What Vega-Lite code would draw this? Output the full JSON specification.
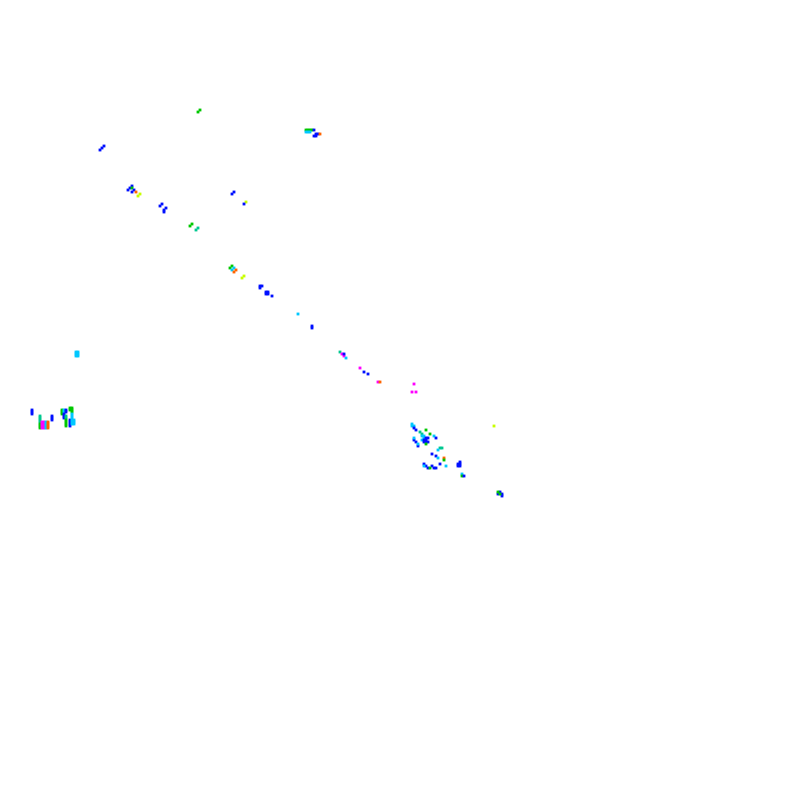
{
  "$schema": "https://vega.github.io/schema/vega-lite/v6.json",
  "description": "Sparse raster of small coloured cells, no axes",
  "width": 800,
  "height": 800,
  "autosize": {"type": "fit", "contains": "padding"},
  "padding": 0,
  "background": "white",
  "data": {
    "values": [
      {"c": 99, "r": 56, "k": "G"}, {"c": 100, "r": 55, "k": "G"},
      {"c": 153, "r": 65, "k": "G"}, {"c": 154, "r": 65, "k": "G"}, {"c": 155, "r": 65, "k": "G"}, {"c": 156, "r": 65, "k": "G"},
      {"c": 153, "r": 66, "k": "C"}, {"c": 154, "r": 66, "k": "C"}, {"c": 155, "r": 66, "k": "C"},
      {"c": 157, "r": 65, "k": "B"}, {"c": 157, "r": 68, "k": "B"}, {"c": 158, "r": 68, "k": "B"}, {"c": 158, "r": 67, "k": "B"}, {"c": 159, "r": 67, "k": "B"},
      {"c": 160, "r": 67, "k": "O"},
      {"c": 50, "r": 75, "k": "B"}, {"c": 51, "r": 74, "k": "B"}, {"c": 52, "r": 73, "k": "B"},
      {"c": 64, "r": 95, "k": "B"}, {"c": 65, "r": 94, "k": "B"}, {"c": 66, "r": 93, "k": "B"}, {"c": 66, "r": 94, "k": "G"},
      {"c": 66, "r": 96, "k": "B"}, {"c": 67, "r": 95, "k": "B"}, {"c": 68, "r": 96, "k": "O"},
      {"c": 69, "r": 98, "k": "Y"}, {"c": 70, "r": 97, "k": "Y"},
      {"c": 80, "r": 103, "k": "B"}, {"c": 81, "r": 102, "k": "B"}, {"c": 82, "r": 105, "k": "B"}, {"c": 83, "r": 104, "k": "B"}, {"c": 82, "r": 106, "k": "B"},
      {"c": 116, "r": 97, "k": "B"}, {"c": 117, "r": 96, "k": "B"},
      {"c": 123, "r": 101, "k": "Y"}, {"c": 122, "r": 102, "k": "B"},
      {"c": 95, "r": 113, "k": "G"}, {"c": 96, "r": 112, "k": "G"},
      {"c": 98, "r": 115, "k": "T"}, {"c": 99, "r": 114, "k": "T"},
      {"c": 115, "r": 134, "k": "G"}, {"c": 116, "r": 133, "k": "G"},
      {"c": 116, "r": 135, "k": "C"}, {"c": 117, "r": 134, "k": "C"},
      {"c": 117, "r": 136, "k": "O"}, {"c": 118, "r": 135, "k": "O"},
      {"c": 121, "r": 139, "k": "Y"}, {"c": 122, "r": 138, "k": "Y"},
      {"c": 130, "r": 143, "k": "B"}, {"c": 131, "r": 143, "k": "B"}, {"c": 130, "r": 144, "k": "B"},
      {"c": 133, "r": 146, "k": "B"}, {"c": 134, "r": 146, "k": "B"}, {"c": 133, "r": 147, "k": "B"}, {"c": 134, "r": 147, "k": "B"},
      {"c": 136, "r": 148, "k": "B"},
      {"c": 149, "r": 157, "k": "C"},
      {"c": 156, "r": 163, "k": "B"}, {"c": 156, "r": 164, "k": "B"},
      {"c": 170, "r": 176, "k": "T"}, {"c": 171, "r": 177, "k": "M"}, {"c": 172, "r": 178, "k": "M"}, {"c": 172, "r": 177, "k": "B"}, {"c": 173, "r": 179, "k": "C"},
      {"c": 180, "r": 184, "k": "M"}, {"c": 182, "r": 186, "k": "B"}, {"c": 184, "r": 187, "k": "B"},
      {"c": 189, "r": 191, "k": "M"}, {"c": 190, "r": 191, "k": "O"},
      {"c": 207, "r": 192, "k": "M"}, {"c": 206, "r": 196, "k": "M"}, {"c": 208, "r": 196, "k": "M"},
      {"c": 38, "r": 176, "k": "C"}, {"c": 39, "r": 176, "k": "C"}, {"c": 38, "r": 177, "k": "C"}, {"c": 39, "r": 177, "k": "C"}, {"c": 39, "r": 178, "k": "C"}, {"c": 38, "r": 178, "k": "C"},
      {"c": 16, "r": 205, "k": "B"}, {"c": 16, "r": 206, "k": "B"}, {"c": 16, "r": 207, "k": "B"},
      {"c": 20, "r": 208, "k": "T"}, {"c": 20, "r": 209, "k": "T"}, {"c": 20, "r": 210, "k": "T"}, {"c": 20, "r": 211, "k": "T"}, {"c": 20, "r": 212, "k": "G"}, {"c": 20, "r": 213, "k": "G"}, {"c": 20, "r": 214, "k": "G"},
      {"c": 21, "r": 211, "k": "M"}, {"c": 21, "r": 212, "k": "M"}, {"c": 21, "r": 213, "k": "M"}, {"c": 21, "r": 214, "k": "M"},
      {"c": 22, "r": 211, "k": "M"}, {"c": 22, "r": 212, "k": "M"}, {"c": 22, "r": 213, "k": "M"}, {"c": 22, "r": 214, "k": "M"},
      {"c": 23, "r": 211, "k": "C"}, {"c": 23, "r": 212, "k": "C"}, {"c": 23, "r": 213, "k": "C"}, {"c": 23, "r": 214, "k": "C"},
      {"c": 24, "r": 211, "k": "O"}, {"c": 24, "r": 212, "k": "O"}, {"c": 24, "r": 213, "k": "O"}, {"c": 24, "r": 214, "k": "O"},
      {"c": 26, "r": 208, "k": "B"}, {"c": 26, "r": 209, "k": "B"}, {"c": 26, "r": 210, "k": "B"},
      {"c": 31, "r": 205, "k": "G"}, {"c": 31, "r": 206, "k": "G"}, {"c": 31, "r": 207, "k": "G"},
      {"c": 32, "r": 205, "k": "C"}, {"c": 32, "r": 206, "k": "C"}, {"c": 32, "r": 207, "k": "B"}, {"c": 32, "r": 208, "k": "B"}, {"c": 32, "r": 209, "k": "B"},
      {"c": 33, "r": 205, "k": "B"}, {"c": 33, "r": 206, "k": "B"},
      {"c": 33, "r": 208, "k": "T"}, {"c": 33, "r": 209, "k": "T"}, {"c": 33, "r": 210, "k": "G"}, {"c": 33, "r": 211, "k": "G"}, {"c": 33, "r": 212, "k": "G"}, {"c": 33, "r": 213, "k": "G"},
      {"c": 35, "r": 204, "k": "G"}, {"c": 36, "r": 204, "k": "G"}, {"c": 35, "r": 205, "k": "G"}, {"c": 36, "r": 205, "k": "G"}, {"c": 36, "r": 206, "k": "G"},
      {"c": 35, "r": 210, "k": "B"}, {"c": 35, "r": 211, "k": "B"}, {"c": 35, "r": 212, "k": "B"}, {"c": 35, "r": 213, "k": "B"},
      {"c": 36, "r": 207, "k": "C"}, {"c": 36, "r": 208, "k": "C"}, {"c": 36, "r": 209, "k": "C"}, {"c": 36, "r": 210, "k": "C"}, {"c": 36, "r": 211, "k": "C"}, {"c": 36, "r": 212, "k": "C"},
      {"c": 37, "r": 210, "k": "C"}, {"c": 37, "r": 211, "k": "C"}, {"c": 37, "r": 212, "k": "C"},
      {"c": 206, "r": 212, "k": "C"}, {"c": 207, "r": 213, "k": "C"}, {"c": 206, "r": 213, "k": "C"}, {"c": 207, "r": 214, "k": "B"},
      {"c": 213, "r": 215, "k": "G"}, {"c": 208, "r": 215, "k": "B"}, {"c": 210, "r": 216, "k": "T"}, {"c": 211, "r": 217, "k": "T"},
      {"c": 211, "r": 218, "k": "C"}, {"c": 212, "r": 218, "k": "C"}, {"c": 212, "r": 219, "k": "C"}, {"c": 211, "r": 220, "k": "C"},
      {"c": 212, "r": 220, "k": "B"}, {"c": 213, "r": 220, "k": "B"}, {"c": 213, "r": 219, "k": "B"}, {"c": 214, "r": 219, "k": "B"}, {"c": 213, "r": 221, "k": "B"}, {"c": 214, "r": 221, "k": "B"}, {"c": 212, "r": 221, "k": "B"},
      {"c": 213, "r": 222, "k": "G"}, {"c": 215, "r": 217, "k": "G"},
      {"c": 207, "r": 220, "k": "B"}, {"c": 208, "r": 221, "k": "B"}, {"c": 209, "r": 223, "k": "B"}, {"c": 207, "r": 219, "k": "C"}, {"c": 209, "r": 222, "k": "C"},
      {"c": 217, "r": 218, "k": "C"}, {"c": 218, "r": 219, "k": "B"},
      {"c": 247, "r": 213, "k": "Y"},
      {"c": 220, "r": 224, "k": "T"}, {"c": 221, "r": 224, "k": "T"}, {"c": 219, "r": 225, "k": "C"},
      {"c": 216, "r": 227, "k": "B"}, {"c": 218, "r": 228, "k": "B"}, {"c": 219, "r": 229, "k": "C"}, {"c": 222, "r": 229, "k": "O"}, {"c": 222, "r": 230, "k": "G"},
      {"c": 212, "r": 232, "k": "B"}, {"c": 213, "r": 233, "k": "B"}, {"c": 214, "r": 234, "k": "B"}, {"c": 212, "r": 233, "k": "C"},
      {"c": 216, "r": 233, "k": "B"}, {"c": 217, "r": 234, "k": "B"}, {"c": 218, "r": 234, "k": "B"}, {"c": 215, "r": 234, "k": "G"},
      {"c": 220, "r": 232, "k": "B"}, {"c": 223, "r": 233, "k": "C"},
      {"c": 229, "r": 232, "k": "B"}, {"c": 230, "r": 232, "k": "B"}, {"c": 229, "r": 233, "k": "B"}, {"c": 230, "r": 233, "k": "B"}, {"c": 230, "r": 231, "k": "B"},
      {"c": 231, "r": 237, "k": "C"}, {"c": 231, "r": 238, "k": "G"}, {"c": 232, "r": 238, "k": "B"},
      {"c": 249, "r": 247, "k": "B"}, {"c": 251, "r": 247, "k": "B"}, {"c": 251, "r": 248, "k": "B"}, {"c": 250, "r": 246, "k": "B"}, {"c": 249, "r": 246, "k": "G"}, {"c": 250, "r": 247, "k": "G"}
    ]
  },
  "mark": {"type": "square", "size": 8, "opacity": 1, "filled": true},
  "encoding": {
    "x": {"field": "c", "type": "quantitative", "scale": {"domain": [0, 400], "nice": false, "zero": false}, "axis": null},
    "y": {"field": "r", "type": "quantitative", "scale": {"domain": [400, 0], "nice": false, "zero": false}, "axis": null},
    "color": {
      "field": "k",
      "type": "nominal",
      "scale": {
        "domain": ["B", "C", "T", "G", "Y", "O", "M"],
        "range": ["#0010ff", "#00c8ff", "#00c890", "#00c800", "#c8ff00", "#ff6400", "#ff00ff"]
      },
      "legend": null
    }
  },
  "config": {"view": {"stroke": null}}
}
